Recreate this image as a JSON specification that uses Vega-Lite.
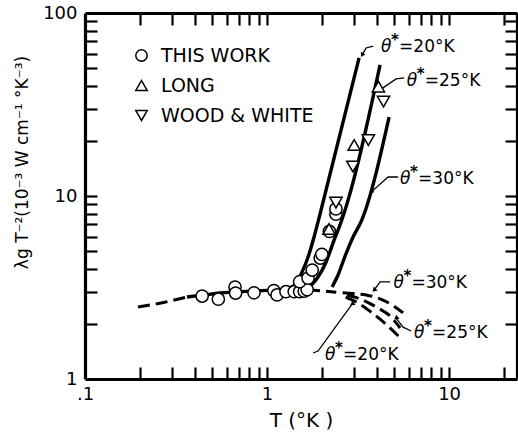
{
  "$schema": "https://vega.github.io/schema/vega-lite/v6.json",
  "width": 432,
  "height": 366,
  "autosize": {"type": "none"},
  "padding": {"left": 85, "top": 13, "right": 1, "bottom": 66},
  "background": "white",
  "config": {
    "view": {"stroke": null},
    "font": "DejaVu Sans",
    "axis": {
      "grid": false,
      "domainColor": "black",
      "domainWidth": 3.2,
      "tickColor": "black",
      "tickWidth": 2.2,
      "tickSize": 12,
      "labelColor": "black",
      "labelFont": "DejaVu Sans",
      "labelFontSize": 18,
      "labelOverlap": false,
      "labelFlush": false,
      "titleColor": "black",
      "titleFont": "DejaVu Sans",
      "titleFontWeight": "normal"
    }
  },
  "datasets": {
    "curves": [
      {"curve": "low", "style": "dashed", "seq": 1, "T": 0.1955, "Y": 2.474},
      {"curve": "low", "style": "dashed", "seq": 2, "T": 0.27, "Y": 2.62},
      {"curve": "low", "style": "dashed", "seq": 3, "T": 0.3634, "Y": 2.806},
      {"curve": "base", "style": "solid", "seq": 1, "T": 0.3634, "Y": 2.806},
      {"curve": "base", "style": "solid", "seq": 2, "T": 0.45, "Y": 2.88},
      {"curve": "base", "style": "solid", "seq": 3, "T": 0.552, "Y": 2.95},
      {"curve": "base", "style": "solid", "seq": 4, "T": 0.807, "Y": 3.02},
      {"curve": "base", "style": "solid", "seq": 5, "T": 1.179, "Y": 3.06},
      {"curve": "base", "style": "solid", "seq": 6, "T": 1.68, "Y": 3.07},
      {"curve": "s20", "style": "solid", "seq": 1, "T": 1.179, "Y": 3.06},
      {"curve": "s20", "style": "solid", "seq": 2, "T": 1.256, "Y": 3.1},
      {"curve": "s20", "style": "solid", "seq": 3, "T": 1.425, "Y": 3.26},
      {"curve": "s20", "style": "solid", "seq": 4, "T": 1.557, "Y": 3.84},
      {"curve": "s20", "style": "solid", "seq": 5, "T": 1.68, "Y": 4.64},
      {"curve": "s20", "style": "solid", "seq": 6, "T": 1.812, "Y": 5.97},
      {"curve": "s20", "style": "solid", "seq": 7, "T": 1.955, "Y": 7.97},
      {"curve": "s20", "style": "solid", "seq": 8, "T": 3.203, "Y": 56.8},
      {"curve": "s25", "style": "solid", "seq": 1, "T": 1.577, "Y": 3.08},
      {"curve": "s25", "style": "solid", "seq": 2, "T": 1.723, "Y": 3.22},
      {"curve": "s25", "style": "solid", "seq": 3, "T": 1.906, "Y": 3.61},
      {"curve": "s25", "style": "solid", "seq": 4, "T": 2.11, "Y": 4.36},
      {"curve": "s25", "style": "solid", "seq": 5, "T": 2.305, "Y": 5.54},
      {"curve": "s25", "style": "solid", "seq": 6, "T": 2.573, "Y": 7.39},
      {"curve": "s25", "style": "solid", "seq": 7, "T": 4.177, "Y": 52.0},
      {"curve": "s30", "style": "solid", "seq": 1, "T": 2.276, "Y": 3.18},
      {"curve": "s30", "style": "solid", "seq": 2, "T": 2.455, "Y": 3.7},
      {"curve": "s30", "style": "solid", "seq": 3, "T": 2.683, "Y": 4.7},
      {"curve": "s30", "style": "solid", "seq": 4, "T": 2.968, "Y": 5.97},
      {"curve": "s30", "style": "solid", "seq": 5, "T": 3.313, "Y": 7.39},
      {"curve": "s30", "style": "solid", "seq": 6, "T": 4.681, "Y": 27.0},
      {"curve": "common", "style": "dashed", "seq": 1, "T": 1.68, "Y": 3.07},
      {"curve": "common", "style": "dashed", "seq": 2, "T": 2.0, "Y": 3.03},
      {"curve": "common", "style": "dashed", "seq": 3, "T": 2.4, "Y": 2.98},
      {"curve": "d30", "style": "dashed", "seq": 1, "T": 2.6, "Y": 2.96},
      {"curve": "d30", "style": "dashed", "seq": 2, "T": 3.0, "Y": 2.93},
      {"curve": "d30", "style": "dashed", "seq": 3, "T": 3.499, "Y": 2.88},
      {"curve": "d30", "style": "dashed", "seq": 4, "T": 4.177, "Y": 2.74},
      {"curve": "d30", "style": "dashed", "seq": 5, "T": 4.862, "Y": 2.54},
      {"curve": "d30", "style": "dashed", "seq": 6, "T": 5.588, "Y": 2.3},
      {"curve": "d25", "style": "dashed", "seq": 1, "T": 2.75, "Y": 2.88},
      {"curve": "d25", "style": "dashed", "seq": 2, "T": 3.243, "Y": 2.74},
      {"curve": "d25", "style": "dashed", "seq": 3, "T": 4.073, "Y": 2.44},
      {"curve": "d25", "style": "dashed", "seq": 4, "T": 4.741, "Y": 2.21},
      {"curve": "d25", "style": "dashed", "seq": 5, "T": 5.381, "Y": 1.9},
      {"curve": "d20", "style": "dashed", "seq": 1, "T": 2.7, "Y": 2.8},
      {"curve": "d20", "style": "dashed", "seq": 2, "T": 3.123, "Y": 2.62},
      {"curve": "d20", "style": "dashed", "seq": 3, "T": 3.775, "Y": 2.3},
      {"curve": "d20", "style": "dashed", "seq": 4, "T": 4.507, "Y": 1.99},
      {"curve": "d20", "style": "dashed", "seq": 5, "T": 5.381, "Y": 1.68}
    ],
    "points": [
      {"source": "THIS WORK", "T": 0.44, "Y": 2.84},
      {"source": "THIS WORK", "T": 0.54, "Y": 2.73},
      {"source": "THIS WORK", "T": 0.667, "Y": 3.18},
      {"source": "THIS WORK", "T": 0.672, "Y": 2.95},
      {"source": "THIS WORK", "T": 0.848, "Y": 2.96},
      {"source": "THIS WORK", "T": 1.09, "Y": 3.04},
      {"source": "THIS WORK", "T": 1.135, "Y": 2.88},
      {"source": "THIS WORK", "T": 1.27, "Y": 3.0},
      {"source": "THIS WORK", "T": 1.41, "Y": 3.0},
      {"source": "THIS WORK", "T": 1.51, "Y": 3.0},
      {"source": "THIS WORK", "T": 1.6, "Y": 3.02},
      {"source": "THIS WORK", "T": 1.66, "Y": 3.08},
      {"source": "THIS WORK", "T": 1.51, "Y": 3.4},
      {"source": "THIS WORK", "T": 1.68, "Y": 3.56},
      {"source": "THIS WORK", "T": 1.77, "Y": 3.94},
      {"source": "THIS WORK", "T": 1.96, "Y": 4.58},
      {"source": "THIS WORK", "T": 2.0, "Y": 4.8},
      {"source": "THIS WORK", "T": 2.2, "Y": 6.4},
      {"source": "THIS WORK", "T": 2.39, "Y": 7.95},
      {"source": "THIS WORK", "T": 2.39, "Y": 8.5},
      {"source": "LONG", "T": 2.19, "Y": 6.6},
      {"source": "LONG", "T": 3.01, "Y": 19.0},
      {"source": "LONG", "T": 4.09, "Y": 39.6},
      {"source": "WOOD & WHITE", "T": 2.39, "Y": 9.2},
      {"source": "WOOD & WHITE", "T": 2.96, "Y": 14.5},
      {"source": "WOOD & WHITE", "T": 3.6, "Y": 20.2},
      {"source": "WOOD & WHITE", "T": 4.36, "Y": 32.8}
    ],
    "leaders": [
      {"note": "a20", "seq": 1, "T": 3.823, "Y": 66.0},
      {"note": "a20", "seq": 2, "T": 3.499, "Y": 64.4},
      {"note": "a20", "seq": 3, "T": 3.327, "Y": 58.9},
      {"note": "a25", "seq": 1, "T": 5.658, "Y": 44.2},
      {"note": "a25", "seq": 2, "T": 5.114, "Y": 43.6},
      {"note": "a25", "seq": 3, "T": 4.177, "Y": 38.0},
      {"note": "a30", "seq": 1, "T": 5.246, "Y": 12.7},
      {"note": "a30", "seq": 2, "T": 4.623, "Y": 12.7},
      {"note": "a30", "seq": 3, "T": 3.727, "Y": 10.5},
      {"note": "b30", "seq": 1, "T": 4.741, "Y": 3.39},
      {"note": "b30", "seq": 2, "T": 4.177, "Y": 3.39},
      {"note": "b30", "seq": 3, "T": 3.872, "Y": 3.06},
      {"note": "b25", "seq": 1, "T": 6.183, "Y": 1.83},
      {"note": "b25", "seq": 2, "T": 5.588, "Y": 1.92},
      {"note": "b25", "seq": 3, "T": 5.114, "Y": 2.15},
      {"note": "b20", "seq": 1, "T": 1.789, "Y": 1.387},
      {"note": "b20", "seq": 2, "T": 1.906, "Y": 1.422},
      {"note": "b20", "seq": 3, "T": 2.931, "Y": 2.569}
    ],
    "arrows": [
      {"note": "a20", "T": 3.327, "Y": 58.9},
      {"note": "a25", "T": 4.177, "Y": 38.0},
      {"note": "a30", "T": 3.727, "Y": 10.5},
      {"note": "b30", "T": 3.872, "Y": 3.06},
      {"note": "b25", "T": 5.114, "Y": 2.15},
      {"note": "b20", "T": 2.931, "Y": 2.569}
    ],
    "notes": [
      {"note": "a20", "T": 4.23, "Y": 65.2, "label": "=20°K"},
      {"note": "a25", "T": 5.856, "Y": 42.5, "label": "=25°K"},
      {"note": "a30", "T": 5.381, "Y": 12.38, "label": "=30°K"},
      {"note": "b30", "T": 4.943, "Y": 3.333, "label": "=30°K"},
      {"note": "b25", "T": 6.424, "Y": 1.776, "label": "=25°K"},
      {"note": "b20", "T": 2.083, "Y": 1.352, "label": "=20°K"}
    ]
  },
  "encoding": {
    "x": {"field": "T", "type": "quantitative", "scale": {"type": "log", "domain": [0.1, 23.6], "nice": false}, "axis": null},
    "y": {"field": "Y", "type": "quantitative", "scale": {"type": "log", "domain": [1, 100], "nice": false}, "axis": null}
  },
  "layer": [
    {
      "data": {"name": "curves"},
      "transform": [{"filter": "datum.style === 'solid'"}],
      "mark": {"type": "line", "color": "black", "strokeWidth": 3.4, "interpolate": "monotone"},
      "encoding": {
        "x": {
          "field": "T", "type": "quantitative",
          "scale": {"type": "log", "domain": [0.1, 23.6], "nice": false},
          "axis": {
            "orient": "bottom",
            "ticks": false,
            "values": [0.1, 1, 10],
            "labelExpr": "datum.value == 0.1 ? '.1' : format(datum.value, 'd')",
            "labelPadding": 6,
            "title": "T  (°K )",
            "titleFontSize": 20,
            "titleX": 216,
            "titleY": 41,
            "titleBaseline": "middle"
          }
        },
        "y": {
          "field": "Y", "type": "quantitative",
          "scale": {"type": "log", "domain": [1, 100], "nice": false},
          "axis": {
            "orient": "left",
            "ticks": false,
            "values": [1, 10, 100],
            "labelExpr": "format(datum.value, 'd')",
            "labelPadding": 8,
            "title": "λg T⁻²(10⁻³ W cm⁻¹ °K⁻³)",
            "titleFontSize": 17,
            "titleAngle": 270,
            "titleX": -63,
            "titleY": 149,
            "titleBaseline": "middle",
            "titleAlign": "center"
          }
        },
        "detail": {"field": "curve"},
        "order": {"field": "seq"}
      }
    },
    {
      "data": {"name": "curves"},
      "transform": [{"filter": "datum.style === 'dashed'"}],
      "mark": {"type": "line", "color": "black", "strokeWidth": 3, "strokeDash": [12, 6], "interpolate": "monotone"},
      "encoding": {
        "x": {
          "field": "T", "type": "quantitative",
          "scale": {"type": "log", "domain": [0.1, 23.6], "nice": false},
          "axis": {
            "orient": "bottom",
            "offset": -366,
            "values": [0.2, 0.3, 0.4, 0.5, 0.6, 0.7, 0.8, 0.9, 1, 2, 3, 4, 5, 6, 7, 8, 9, 10, 20],
            "labels": false,
            "title": null
          }
        },
        "y": {
          "field": "Y", "type": "quantitative",
          "scale": {"type": "log", "domain": [1, 100], "nice": false},
          "axis": {
            "orient": "left",
            "offset": -432,
            "values": [2, 3, 4, 5, 6, 7, 8, 9, 10, 20, 30, 40, 50, 60, 70, 80, 90],
            "labels": false,
            "title": null
          }
        },
        "detail": {"field": "curve"},
        "order": {"field": "seq"}
      }
    },
    {
      "data": {"name": "leaders"},
      "mark": {"type": "line", "color": "black", "strokeWidth": 1.3},
      "encoding": {
        "x": {
          "field": "T", "type": "quantitative",
          "scale": {"type": "log", "domain": [0.1, 23.6], "nice": false},
          "axis": {
            "orient": "top",
            "offset": -366,
            "domain": false,
            "values": [0.2, 0.3, 0.4, 0.5, 0.6, 0.7, 0.8, 0.9, 1, 2, 3, 4, 5, 6, 7, 8, 9, 10, 20],
            "labels": false,
            "title": null
          }
        },
        "y": {
          "field": "Y", "type": "quantitative",
          "scale": {"type": "log", "domain": [1, 100], "nice": false},
          "axis": {
            "orient": "right",
            "offset": -432,
            "domain": false,
            "values": [2, 3, 4, 5, 6, 7, 8, 9, 10, 20, 30, 40, 50, 60, 70, 80, 90],
            "labels": false,
            "title": null
          }
        },
        "detail": {"field": "note"},
        "order": {"field": "seq"}
      }
    },
    {
      "data": {"name": "arrows"},
      "mark": {"type": "point", "shape": "triangle-up", "filled": true, "color": "black", "size": 28, "opacity": 1},
      "encoding": {
        "angle": {
          "field": "note", "type": "nominal",
          "scale": {"domain": ["a20", "a25", "a30", "b30", "b25", "b20"], "range": [210, 236, 229, 217, 322, 36]},
          "legend": null
        }
      }
    },
    {
      "data": {"name": "points"},
      "mark": {"type": "point", "filled": true, "fill": "white", "stroke": "black", "strokeWidth": 1.5, "size": 150, "opacity": 1},
      "encoding": {
        "shape": {
          "field": "source", "type": "nominal",
          "scale": {"domain": ["THIS WORK", "LONG", "WOOD & WHITE"], "range": ["circle", "triangle-up", "triangle-down"]},
          "legend": {
            "title": null,
            "orient": "none",
            "legendX": 47,
            "legendY": 33,
            "padding": 0,
            "labelFont": "DejaVu Sans",
            "labelFontSize": 19,
            "labelColor": "black",
            "labelOffset": 10,
            "symbolSize": 130,
            "rowPadding": 10,
            "encode": {
              "symbols": {
                "update": {
                  "fill": {"value": "white"},
                  "stroke": {"value": "black"},
                  "strokeWidth": {"value": 1.5},
                  "opacity": {"value": 1}
                }
              }
            }
          }
        }
      }
    },
    {
      "data": {"name": "notes"},
      "mark": {"type": "text", "text": "θ", "align": "left", "baseline": "middle", "fontSize": 17, "fontStyle": "italic", "color": "black"}
    },
    {
      "data": {"name": "notes"},
      "mark": {"type": "text", "text": "*", "align": "left", "baseline": "middle", "fontSize": 15, "fontWeight": "bold", "dx": 10, "dy": -7, "color": "black"}
    },
    {
      "data": {"name": "notes"},
      "mark": {"type": "text", "align": "left", "baseline": "middle", "fontSize": 17, "dx": 18, "color": "black"},
      "encoding": {"text": {"field": "label"}}
    }
  ],
  "resolve": {"axis": {"x": "independent", "y": "independent"}}
}
